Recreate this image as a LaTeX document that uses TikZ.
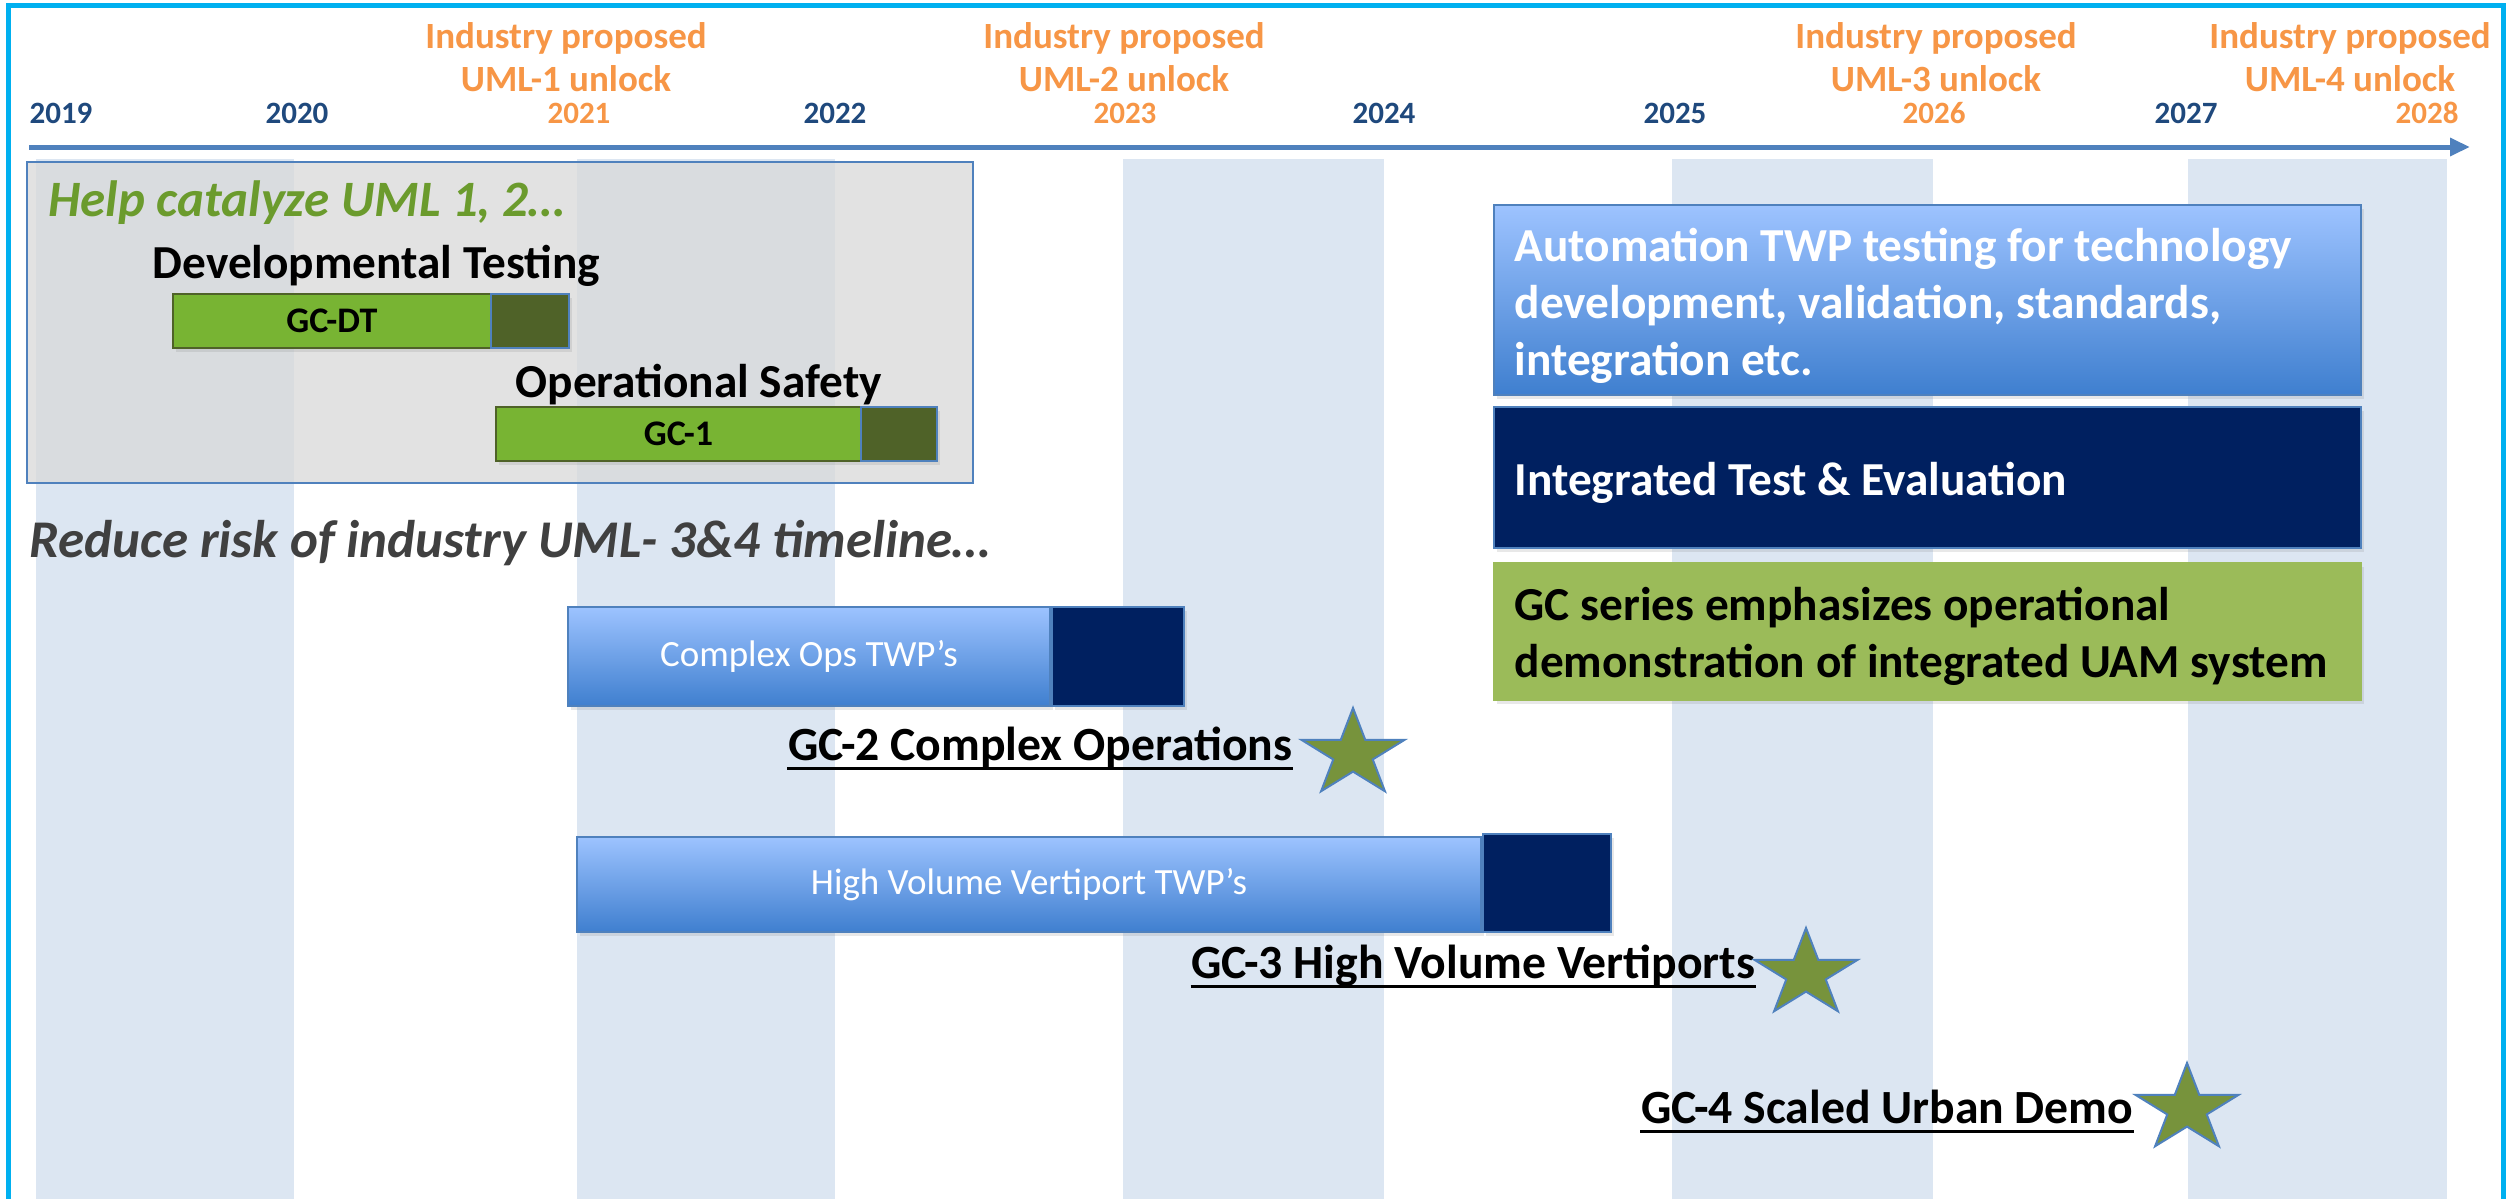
\documentclass[tikz,border=0pt]{standalone}
\usepackage{fontspec}
\setmainfont{Carlito}
\usetikzlibrary{arrows.meta,shadows}
\definecolor{frameC}{HTML}{00B0F0}
\definecolor{yearB}{HTML}{1F497D}
\definecolor{yearO}{HTML}{F79646}
\definecolor{axisC}{HTML}{4F81BD}
\definecolor{colC}{HTML}{DCE6F2}
\definecolor{grayC}{HTML}{D9D9D9}
\definecolor{gBar}{HTML}{78B433}
\definecolor{gDark}{HTML}{4F6228}
\definecolor{navyC}{HTML}{002060}
\definecolor{oliveC}{HTML}{9BBB59}
\definecolor{starC}{HTML}{77933C}
\definecolor{helpC}{HTML}{6B9B2D}
\definecolor{dgray}{HTML}{404040}
\definecolor{blueTop}{HTML}{9DC3FF}
\definecolor{blueBot}{HTML}{3F7FCF}
\newcommand{\fsz}[2]{\fontsize{#1pt}{#2pt}\selectfont}
\begin{document}
\begin{tikzpicture}[x=0.3pt,y=-0.3pt,
  yearb/.style={font=\bfseries\fsz{9.3}{11}, text=yearB, inner sep=0pt, anchor=base},
  yearo/.style={yearb, text=yearO},
  unlock/.style={font=\bfseries\fsz{11.1}{12.9}, text=yearO, align=center, inner sep=0pt},
  softshadow/.style={drop shadow={shadow xshift=1pt, shadow yshift=-1.2pt, opacity=0.18}},
  gbarbox/.style={draw=gDark, line width=0.75pt, fill=gBar, inner sep=0pt, minimum height=16.2pt, font=\bfseries\fsz{10.8}{12}, softshadow},
  gdarkbox/.style={draw=axisC, line width=0.75pt, fill=gDark, inner sep=0pt, minimum height=16.2pt, softshadow},
  bbar/.style={draw=axisC, line width=0.5pt, top color=blueTop, bottom color=blueBot, inner sep=0pt, text=white, font=\fsz{11.1}{13}, softshadow},
  nbar/.style={draw=axisC, line width=0.5pt, fill=navyC, inner sep=0pt, softshadow},
  infobox/.style={draw=axisC, line width=0.5pt, inner sep=0pt, minimum width=260.1pt, softshadow},
  infotxt/.style={anchor=west, align=left, inner sep=0pt, font=\bfseries\fsz{14.2}{17.1}},
  headtxt/.style={font=\bfseries\fsz{14.2}{17}, anchor=base west, inner sep=0pt},
  slogan/.style={font=\bfseries\itshape\fsz{15.3}{18}, anchor=base west, inner sep=0pt},
  gclabel/.style={font=\bfseries\fsz{14.3}{17}, inner sep=0pt, anchor=base east},
  uline/.style={line width=0.9pt},
  gcstar/.pic={\draw[fill=starC, draw=axisC, line width=0.6pt, xscale=1.18]
     (-90:46) -- (-126:17.6) -- (-162:46) -- (-198:17.6) -- (-234:46) -- (-270:17.6)
     -- (-306:46) -- (-342:17.6) -- (-378:46) -- (-414:17.6) -- cycle;}
]
\useasboundingbox (0,0) rectangle (2506,1199);
\fill[white] (0,0) rectangle (2506,1199);
% year columns
\foreach \a/\b in {36/294, 577/835, 1123/1384, 1672/1933, 2188/2447}
  \fill[colC] (\a,159) rectangle (\b,1199);
% frame
\draw[frameC, line width=1.5pt] (8.5,1199) -- (8.5,5.5) -- (2503.5,5.5) -- (2503.5,1199);
% axis
\coordinate (axS) at (29,147);
\coordinate (axE) at (2470,147);
\draw[axisC, line width=1.5pt, -{Triangle[length=6pt,width=5.2pt]}] (axS) -- (axE);
% years
\node[yearb] (y2019) at (61,123) {2019};
\node[yearb] (y2020) at (297,123) {2020};
\node[yearo] (y2021) at (579,123) {2021};
\node[yearb] (y2022) at (835,123) {2022};
\node[yearo] (y2023) at (1125,123) {2023};
\node[yearb] (y2024) at (1384,123) {2024};
\node[yearb] (y2025) at (1675,123) {2025};
\node[yearo] (y2026) at (1934,123) {2026};
\node[yearb] (y2027) at (2186,123) {2027};
\node[yearo] (y2028) at (2427,123) {2028};
% unlock labels
\node[unlock] (u1) at (566,57) {Industry proposed\\UML-1 unlock};
\node[unlock] (u2) at (1124,57) {Industry proposed\\UML-2 unlock};
\node[unlock] (u3) at (1936,57) {Industry proposed\\UML-3 unlock};
\node[unlock] (u4) at (2350,57) {Industry proposed\\UML-4 unlock};
% gray box
\node[draw=axisC, line width=0.75pt, fill=grayC, fill opacity=0.75, minimum width=283.8pt, minimum height=96.3pt, inner sep=0pt] (catbox) at (500,322.5) {};
\node[slogan, text=helpC] (help) at (48,216) {Help catalyze UML 1, 2…};
\node[headtxt] (devt) at (152,278) {Developmental Testing};
\node[headtxt] (opsafe) at (515,397) {Operational Safety};
\node[gbarbox, minimum width=95.4pt] (gcdt) at (332,321) {GC-DT};
\node[gdarkbox, minimum width=23.4pt] (gcdtd) at (530,321) {};
\node[gbarbox, minimum width=109.5pt] (gc1) at (678.5,434) {GC-1};
\node[gdarkbox, minimum width=22.8pt] (gc1d) at (899,434) {};
\node[slogan, text=dgray, font=\bfseries\itshape\fsz{15.9}{18}] (reduce) at (29,557) {Reduce risk of industry UML- 3\&4 timeline…};
% info boxes
\node[infobox, top color=blueTop, bottom color=blueBot, minimum height=57pt] (auto) at (1927.5,300) {};
\node[infotxt, text=white] (autot) at (1514,306)
  {Automation TWP testing for technology\\development, validation, standards,\\integration etc.};
\node[infobox, fill=navyC, minimum height=42.3pt] (ite) at (1927.5,477.5) {};
\node[infotxt, text=white] (itet) at (1514,483) {Integrated Test \& Evaluation};
\node[infobox, draw=oliveC, fill=oliveC, minimum height=41.1pt] (gcs) at (1927.5,631.5) {};
\node[infotxt] (gcst) at (1514,636)
  {GC series emphasizes operational\\demonstration of integrated UAM system};
% TWP bars
\node[bbar, minimum width=144.6pt, minimum height=29.7pt] (cops) at (809,656.5) {Complex Ops TWP’s};
\node[nbar, minimum width=39.6pt, minimum height=29.7pt] (copsd) at (1118,656.5) {};
\node[bbar, minimum width=271.2pt, minimum height=28.5pt] (hvv) at (1029,884.5) {High Volume Vertiport TWP’s};
\node[nbar, minimum width=38.4pt, minimum height=29.4pt] (hvvd) at (1547,883) {};
% milestone labels
\node[gclabel] (l2) at (1293,760) {GC-2 Complex Operations};
\draw[uline] ([yshift=-2.4pt]l2.base west) -- ([yshift=-2.4pt]l2.base east);
\node[gclabel] (l3) at (1756,978) {GC-3 High Volume Vertiports};
\draw[uline] ([yshift=-2.4pt]l3.base west) -- ([yshift=-2.4pt]l3.base east);
\node[gclabel] (l4) at (2134,1123) {GC-4 Scaled Urban Demo};
\draw[uline] ([yshift=-2.4pt]l4.base west) -- ([yshift=-2.4pt]l4.base east);
% stars
\pic (s2) at (1353,754) {gcstar};
\pic (s3) at (1806,974) {gcstar};
\pic (s4) at (2187,1109) {gcstar};
\end{tikzpicture}
\end{document}
